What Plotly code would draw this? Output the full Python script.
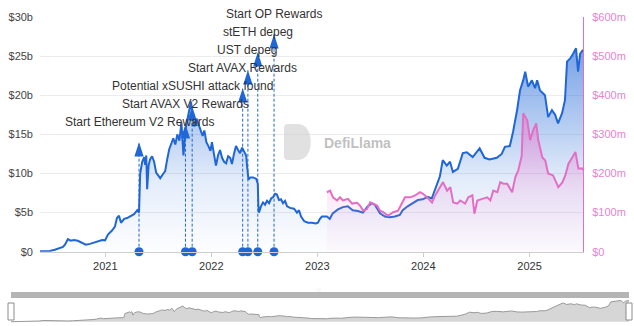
import plotly.graph_objects as go

# ---- TVL (left axis, billions USD) ----
tvl_dates = [
    "2020-05-21", "2020-06-24", "2020-07-11", "2020-07-28", "2020-08-08", "2020-08-15", "2020-08-25",
    "2020-09-04", "2020-09-15", "2020-09-28", "2020-10-12", "2020-10-26", "2020-11-09", "2020-11-23",
    "2020-12-07", "2020-12-21", "2020-12-31", "2021-01-10", "2021-01-24", "2021-02-03", "2021-02-10",
    "2021-02-17", "2021-02-24", "2021-03-07", "2021-03-17", "2021-03-27", "2021-04-10", "2021-04-21",
    "2021-04-27", "2021-05-01", "2021-05-08", "2021-05-15", "2021-05-18", "2021-05-22", "2021-05-25",
    "2021-05-30", "2021-06-04", "2021-06-11", "2021-06-18", "2021-06-25", "2021-07-02", "2021-07-09",
    "2021-07-20", "2021-07-26", "2021-08-02", "2021-08-09", "2021-08-16", "2021-08-23", "2021-08-30",
    "2021-09-06", "2021-09-13", "2021-09-20", "2021-09-27", "2021-10-04", "2021-10-11", "2021-10-18",
    "2021-10-23", "2021-10-28", "2021-11-04", "2021-11-11", "2021-11-18", "2021-11-25", "2021-12-02",
    "2021-12-08", "2021-12-15", "2021-12-22", "2021-12-29", "2022-01-03", "2022-01-10", "2022-01-17",
    "2022-01-24", "2022-01-31", "2022-02-07", "2022-02-14", "2022-02-21", "2022-02-28", "2022-03-07",
    "2022-03-13", "2022-03-20", "2022-03-27", "2022-04-03", "2022-04-10", "2022-04-17", "2022-04-24",
    "2022-05-01", "2022-05-04", "2022-05-09", "2022-05-15", "2022-05-25", "2022-06-05", "2022-06-10",
    "2022-06-12", "2022-06-14", "2022-06-21", "2022-06-28", "2022-07-05", "2022-07-12", "2022-07-19",
    "2022-07-26", "2022-08-02", "2022-08-09", "2022-08-15", "2022-08-22", "2022-08-29", "2022-09-05",
    "2022-09-12", "2022-09-19", "2022-09-29", "2022-10-13", "2022-10-23", "2022-10-30", "2022-11-06",
    "2022-11-17", "2022-11-30", "2022-12-13", "2022-12-27", "2023-01-03", "2023-01-10", "2023-01-17",
    "2023-02-03", "2023-02-13", "2023-02-23", "2023-03-13", "2023-03-30", "2023-04-16", "2023-05-03",
    "2023-05-21", "2023-06-07", "2023-06-24", "2023-07-08", "2023-07-18", "2023-08-05", "2023-08-22",
    "2023-09-08", "2023-09-25", "2023-10-12", "2023-10-22", "2023-11-08", "2023-11-25", "2023-12-13",
    "2023-12-30", "2024-01-16", "2024-01-30", "2024-02-17", "2024-02-27", "2024-03-08", "2024-03-22",
    "2024-04-02", "2024-04-12", "2024-04-29", "2024-05-16", "2024-05-30", "2024-06-19", "2024-07-13",
    "2024-07-30", "2024-08-16", "2024-09-10", "2024-09-27", "2024-10-08", "2024-10-25", "2024-11-05",
    "2024-11-19", "2024-11-29", "2024-12-10", "2024-12-17", "2024-12-27", "2025-01-09", "2025-01-20",
    "2025-01-27", "2025-02-06", "2025-02-23", "2025-03-06", "2025-03-19", "2025-03-30", "2025-04-09",
    "2025-04-23", "2025-05-03", "2025-05-10", "2025-05-21", "2025-05-31", "2025-06-10", "2025-06-17",
    "2025-06-24", "2025-07-04",
]
tvl_values = [
    0.05, 0.1, 0.25, 0.45, 0.6, 0.9, 1.6,
    1.4, 1.5, 1.4, 1.1, 0.9, 1.0, 1.2,
    1.4, 1.5, 1.45, 2.2, 2.7, 3.2, 4.3,
    4.6, 3.7, 4.2, 4.3, 4.5, 4.8, 5.3,
    5.0, 10.0, 11.5, 12.1, 11.1, 12.3, 8.0,
    11.0, 11.8, 12.2, 11.5, 10.1, 9.8, 9.4,
    10.0, 10.3, 11.8, 13.1, 13.8, 14.5, 13.7,
    15.0, 14.2, 16.5, 12.3, 15.6, 17.0, 18.2,
    19.2, 17.5, 16.0, 17.0, 16.3, 15.4, 14.8,
    15.5, 14.0, 13.5, 12.9, 14.0, 12.5, 11.0,
    12.3, 13.0, 12.0, 11.5, 11.3, 12.2, 12.0,
    11.2, 12.5, 13.5, 13.0, 12.6, 13.3, 12.8,
    12.3, 11.0, 9.2, 9.5, 9.5, 9.3, 8.7,
    6.0, 5.0, 5.8, 6.3, 6.0, 6.5, 6.2,
    6.8, 7.0, 7.4, 7.3, 6.6, 6.7, 6.2,
    6.5, 5.8, 5.6, 5.5, 5.0, 5.3, 4.5,
    3.9, 3.7, 3.7, 3.6, 3.7, 4.2, 4.5,
    4.5, 4.2, 4.9, 5.4, 5.7, 5.8, 5.3,
    5.2, 5.0, 5.8, 6.2, 6.0, 4.9, 4.5,
    4.4, 4.5, 4.7, 5.3, 5.8, 6.2, 6.6,
    6.7, 7.0, 6.8, 8.5, 9.6, 11.7, 11.0,
    11.5, 10.2, 10.6, 12.6, 12.7, 12.1, 13.2,
    12.0, 11.8, 12.0, 12.5, 13.4, 13.5, 15.3,
    18.1, 20.6, 21.9, 23.0, 21.1, 21.9, 20.9,
    21.9, 20.6, 20.0, 17.2, 18.1, 17.5, 16.4,
    17.7, 19.4, 24.3, 24.7, 25.3, 26.0, 23.0,
    25.3, 25.8,
]

# ---- second series (right axis, millions USD) ----
rev_dates = [
    "2023-02-03", "2023-02-14", "2023-02-24", "2023-03-10", "2023-03-20", "2023-03-30", "2023-04-17",
    "2023-05-01", "2023-05-18", "2023-05-28", "2023-06-08", "2023-06-21", "2023-07-02", "2023-07-12",
    "2023-07-26", "2023-08-05", "2023-08-16", "2023-09-02", "2023-09-19", "2023-10-06", "2023-10-20",
    "2023-10-30", "2023-11-17", "2023-12-04", "2023-12-21", "2023-12-31", "2024-01-14", "2024-01-31",
    "2024-02-11", "2024-02-28", "2024-03-09", "2024-03-23", "2024-04-03", "2024-04-13", "2024-04-27",
    "2024-05-07", "2024-05-24", "2024-06-04", "2024-06-18", "2024-06-25", "2024-07-05", "2024-07-22",
    "2024-08-08", "2024-08-19", "2024-08-29", "2024-09-12", "2024-09-22", "2024-10-03", "2024-10-16",
    "2024-11-02", "2024-11-13", "2024-11-23", "2024-12-05", "2024-12-10", "2024-12-24", "2025-01-03",
    "2025-01-13", "2025-01-24", "2025-01-31", "2025-02-14", "2025-02-24", "2025-03-06", "2025-03-23",
    "2025-04-10", "2025-04-24", "2025-05-04", "2025-05-15", "2025-05-29", "2025-06-08", "2025-06-15",
    "2025-06-18", "2025-07-02", "2025-07-04",
]
rev_values = [
    152, 156, 139, 131, 139, 131, 135,
    123, 125, 118, 105, 109, 126, 123,
    118, 105, 101, 92, 101, 105, 123,
    139, 139, 144, 152, 148, 139, 126,
    144, 165, 178, 156, 165, 126, 123,
    131, 123, 139, 144, 97, 131, 135,
    139, 131, 156, 152, 178, 174, 174,
    152, 191, 208, 245, 354, 336, 285,
    310, 328, 285, 241, 233, 200, 195,
    165, 177, 195, 225, 242, 255, 225,
    213, 213, 208,
]

# ---- protocol events ----
event_dates = ["2021-04-27", "2021-10-04", "2021-10-27", "2022-04-19",
               "2022-05-07", "2022-06-10", "2022-08-05"]
event_names = ["Start Ethereum V2 Rewards", "Start AVAX V2 Rewards", "Potential xSUSHI attack found",
               "Start AVAX Rewards", "UST depeg", "stETH depeg", "Start OP Rewards"]

# ---- axis ticks ----
left_ticks = [0, 5, 10, 15, 20, 25, 30]
left_labels = ["$0", "$5b", "$10b", "$15b", "$20b", "$25b", "$30b"]
right_ticks = [0, 100, 200, 300, 400, 500, 600]
right_labels = ["$0", "$100m", "$200m", "$300m", "$400m", "$500m", "$600m"]

BLUE = "#1f66d6"
PINK = "#e36fc4"
FONT = "Liberation Sans, Arial, sans-serif"

W, H = 634, 326
ML, MR, MT, MB = 10, 4, 17, 3
PW, PH = W - ML - MR, H - MT - MB


def px_x(x):
    return (x - ML) / PW


def px_y(y):
    return (H - MB - y) / PH


fig = go.Figure()

# main series, left axis
fig.add_trace(go.Scatter(
    x=tvl_dates, y=tvl_values, mode="lines", name="TVL",
    line=dict(color=BLUE, width=2),
    fill="tozeroy",
    fillgradient=dict(type="vertical", start=0, stop=30,
                      colorscale=[[0, "rgba(31,102,214,0.01)"], [0.3, "rgba(31,102,214,0.12)"],
                                  [1, "rgba(31,102,214,0.72)"]]),
    xaxis="x", yaxis="y", hoverinfo="skip",
))

# second series, right axis
fig.add_trace(go.Scatter(
    x=rev_dates, y=rev_values, mode="lines", name="Revenue",
    line=dict(color=PINK, width=2),
    fill="tozeroy",
    fillgradient=dict(type="vertical", start=0, stop=600,
                      colorscale=[[0, "rgba(240,130,210,0.03)"], [0.25, "rgba(240,130,210,0.16)"],
                                  [0.6, "rgba(236,120,205,0.6)"], [1, "rgba(236,120,205,0.9)"]]),
    xaxis="x", yaxis="y3", hoverinfo="skip",
))

# event markers: dashed stems, base dots and arrow heads
n_ev = len(event_dates)
arrow_levels = [14.0 + 2.3 * i for i in range(n_ev)]
stem_x, stem_y = [], []
for d, lv in zip(event_dates, arrow_levels):
    stem_x += [d, d, None]
    stem_y += [0, lv, None]
fig.add_trace(go.Scatter(
    x=stem_x, y=stem_y, mode="lines", line=dict(color=BLUE, width=1, dash="3px,2px"),
    xaxis="x", yaxis="y", hoverinfo="skip", showlegend=False, cliponaxis=False,
))
fig.add_trace(go.Scatter(
    x=event_dates, y=[0] * n_ev, mode="markers",
    marker=dict(color=BLUE, size=9, line=dict(width=0)),
    xaxis="x", yaxis="y", hoverinfo="skip", showlegend=False, cliponaxis=False,
))
fig.add_trace(go.Scatter(
    x=event_dates, y=arrow_levels, mode="markers",
    marker=dict(color=BLUE, size=15, symbol="arrow", line=dict(width=0)),
    xaxis="x", yaxis="y", hoverinfo="skip", showlegend=False, cliponaxis=False,
))
for d, lv, name in zip(event_dates, arrow_levels, event_names):
    fig.add_annotation(x=d, y=lv, xref="x", yref="y", text=name, showarrow=False,
                       yshift=20, font=dict(family=FONT, size=12, color="#333333"),
                       xanchor="center", yanchor="middle")

# overview strip below the chart
fig.add_trace(go.Scatter(
    x=tvl_dates, y=tvl_values, mode="lines",
    line=dict(color="#9a9a9a", width=1), fill="tozeroy", fillcolor="#d6d6d6",
    xaxis="x2", yaxis="y2", hoverinfo="skip", showlegend=False,
))

# watermark
fig.add_annotation(x=px_x(322), y=px_y(143), xref="paper", yref="paper", text="<b>DefiLlama</b>",
                   showarrow=False, xanchor="left", yanchor="middle",
                   font=dict(family=FONT, size=14, color="rgba(150,150,150,0.6)"))
lx0, lx1, ly0, ly1 = 284, 314, 124, 160
logo_path = (
    f"M {px_x(lx0 + 4)} {px_y(ly0)} L {px_x(lx1 - 16)} {px_y(ly0)} "
    f"C {px_x(lx1 + 1)} {px_y(ly0)} {px_x(lx1 + 1)} {px_y(ly1)} {px_x(lx1 - 16)} {px_y(ly1)} "
    f"L {px_x(lx0 + 4)} {px_y(ly1)} Q {px_x(lx0)} {px_y(ly1)} {px_x(lx0)} {px_y(ly1 - 4)} "
    f"L {px_x(lx0)} {px_y(ly0 + 4)} Q {px_x(lx0)} {px_y(ly0)} {px_x(lx0 + 4)} {px_y(ly0)} Z"
)
fig.add_shape(type="path", path=logo_path, xref="paper", yref="paper",
              fillcolor="rgba(205,205,205,0.6)", line=dict(width=0), layer="above")

# slider decorations
fig.add_shape(type="rect", xref="paper", yref="paper",
              x0=px_x(11), x1=px_x(629), y0=px_y(298), y1=px_y(292),
              fillcolor="#b4b4b4", line=dict(width=0))
fig.add_annotation(x=px_x(318), y=px_y(295), xref="paper", yref="paper", text="III",
                   showarrow=False, font=dict(family=FONT, size=6, color="#f2f2f2"))
for hx in (11, 629):
    fig.add_shape(type="rect", xref="paper", yref="paper",
                  x0=px_x(hx - 3), x1=px_x(hx + 3), y0=px_y(320), y1=px_y(303),
                  fillcolor="white", line=dict(color="#8c8c8c", width=1))

x_first, x_last = tvl_dates[0], tvl_dates[-1]

fig.update_layout(
    width=W, height=H,
    margin=dict(l=ML, r=MR, t=MT, b=MB, autoexpand=False),
    paper_bgcolor="white", plot_bgcolor="white",
    showlegend=False,
    font=dict(family=FONT, size=11, color="#444444"),
    xaxis=dict(
        domain=[px_x(40), px_x(583)], range=[x_first, x_last], type="date",
        tickformat="%Y", dtick="M12", tick0="2021-01-01",
        showgrid=False, showline=True, linecolor="#cfcfcf", linewidth=1,
        ticks="outside", ticklen=4, tickcolor="#cfcfcf", automargin=False,
        tickfont=dict(size=11, color="#333333"), zeroline=False,
    ),
    yaxis=dict(
        domain=[px_y(251.7), 1.0], range=[0, 30],
        tickvals=left_ticks, ticktext=left_labels,
        showgrid=True, gridcolor="#ececec", gridwidth=1, zeroline=False,
        showline=False, ticks="", ticklabelstandoff=6, automargin=False,
        tickfont=dict(size=11, color="#444444"),
    ),
    yaxis3=dict(
        overlaying="y", side="right", anchor="x", range=[0, 600],
        tickvals=right_ticks, ticktext=right_labels,
        showgrid=False, zeroline=False, showline=True, linecolor=PINK, linewidth=1,
        ticks="", ticklabelstandoff=6, automargin=False,
        tickfont=dict(size=11, color="#e585cf"),
    ),
    xaxis2=dict(
        domain=[px_x(11), px_x(629)], range=[x_first, x_last], type="date",
        visible=False, anchor="y2", automargin=False,
    ),
    yaxis2=dict(
        domain=[0, px_y(298)], range=[-1.5, 29], visible=False, anchor="x2", automargin=False,
    ),
)

fig.write_html("out.html")
